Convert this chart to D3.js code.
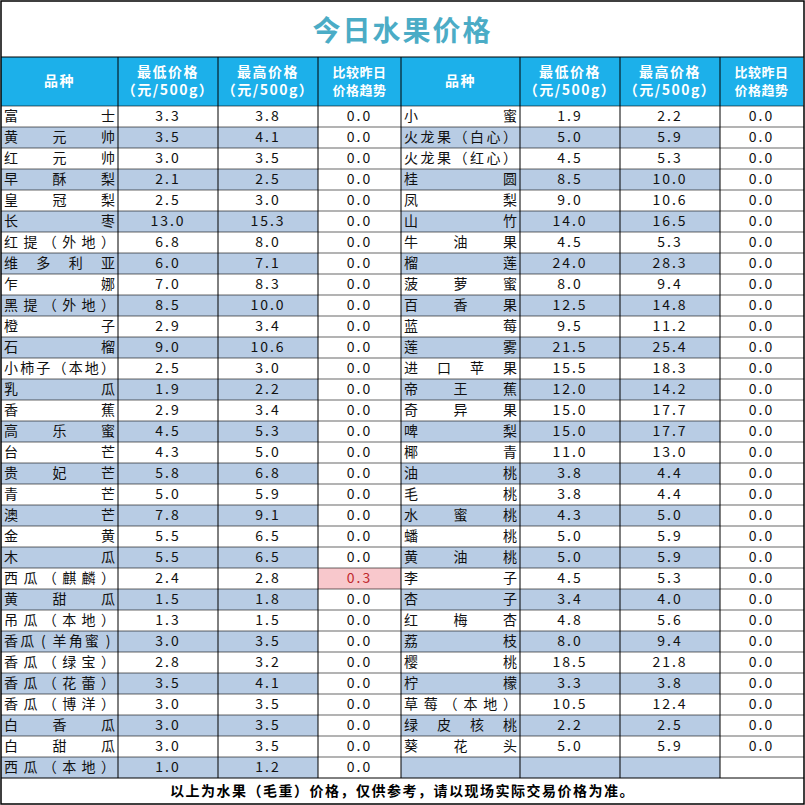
<!DOCTYPE html>
<html><head><meta charset="utf-8">
<script src="https://cdn.jsdelivr.net/npm/d3@7"></script>
<style>body{margin:0;background:#fff}svg text{font-family:"Noto Sans CJK SC",sans-serif}</style>
</head><body><div id="chart"></div>
<script>
const leftNames = ["富士","黄元帅","红元帅","早酥梨","皇冠梨","长枣","红提（外地）","维多利亚","乍娜","黑提（外地）","橙子","石榴","小柿子（本地）","乳瓜","香蕉","高乐蜜","台芒","贵妃芒","青芒","澳芒","金黄","木瓜","西瓜（麒麟）","黄甜瓜","吊瓜（本地）","香瓜(羊角蜜)","香瓜（绿宝）","香瓜（花蕾）","香瓜（博洋）","白香瓜","白甜瓜","西瓜（本地）"];
const leftLow  = [3.3,3.5,3.0,2.1,2.5,13.0,6.8,6.0,7.0,8.5,2.9,9.0,2.5,1.9,2.9,4.5,4.3,5.8,5.0,7.8,5.5,5.5,2.4,1.5,1.3,3.0,2.8,3.5,3.0,3.0,3.0,1.0];
const leftHigh = [3.8,4.1,3.5,2.5,3.0,15.3,8.0,7.1,8.3,10.0,3.4,10.6,3.0,2.2,3.4,5.3,5.0,6.8,5.9,9.1,6.5,6.5,2.8,1.8,1.5,3.5,3.2,4.1,3.5,3.5,3.5,1.2];
const leftTrend = [0,0,0,0,0,0,0,0,0,0,0,0,0,0,0,0,0,0,0,0,0,0,0.3,0,0,0,0,0,0,0,0,0];
const rightNames = ["小蜜","火龙果（白心）","火龙果（红心）","桂圆","凤梨","山竹","牛油果","榴莲","菠萝蜜","百香果","蓝莓","莲雾","进口苹果","帝王蕉","奇异果","啤梨","椰青","油桃","毛桃","水蜜桃","蟠桃","黄油桃","李子","杏子","红梅杏","荔枝","樱桃","柠檬","草莓（本地）","绿皮核桃","葵花头"];
const rightLow  = [1.9,5.0,4.5,8.5,9.0,14.0,4.5,24.0,8.0,12.5,9.5,21.5,15.5,12.0,15.0,15.0,11.0,3.8,3.8,4.3,5.0,5.0,4.5,3.4,4.8,8.0,18.5,3.3,10.5,2.2,5.0];
const rightHigh = [2.2,5.9,5.3,10.0,10.6,16.5,5.3,28.3,9.4,14.8,11.2,25.4,18.3,14.2,17.7,17.7,13.0,4.4,4.4,5.0,5.9,5.9,5.3,4.0,5.6,9.4,21.8,3.8,12.4,2.5,5.9];
const rightTrend = rightNames.map(() => 0);
const headers = [["品种"],["最低价格","（元/500g）"],["最高价格","（元/500g）"],["比较昨日","价格趋势"]];

const W = 805, H = 805;
const colX = [1,118,218,318,401,520,620,720,803];
const headTop = 57, headBot = 106, rowTop = 106, rowH = 21, nRows = 32;
const blue = "#b8cce4", head = "#1cb0ea";

const svg = d3.select("#chart").append("svg").attr("width", W).attr("height", H);
const rowY = d3.scaleLinear().domain([0, nRows]).range([rowTop, rowTop + nRows * rowH]);
const footTop = rowY(nRows);

// title
svg.append("text").attr("x", W/2).attr("y", 31).attr("text-anchor","middle").attr("dy","0.35em")
  .attr("font-size", 28).attr("font-weight", "bold").attr("fill", "#4bacc6").attr("letter-spacing", 2).text("今日水果价格");

// header
for (let c = 0; c < 8; c++) {
  svg.append("rect").attr("x", colX[c]).attr("y", headTop).attr("width", colX[c+1]-colX[c]).attr("height", headBot-headTop).attr("fill", head);
  const lines = headers[c % 4];
  const cx = (colX[c] + colX[c+1]) / 2;
  const narrow = c % 4 === 3;
  lines.forEach((t, i) => {
    const y = lines.length === 1 ? (headTop+headBot)/2 : (headTop+headBot)/2 + (i - 0.5) * 18;
    svg.append("text").attr("x", cx).attr("y", y).attr("dy","0.35em").attr("text-anchor","middle")
      .attr("font-size", narrow ? 13 : 14).attr("font-weight","bold").attr("fill","#fff")
      .attr("letter-spacing", narrow ? 0.5 : 1.5).text(t);
  });
}

function drawSide(names, low, high, trend, c0) {
  for (let r = 0; r < nRows; r++) {
    const y = rowY(r);
    for (let k = 0; k < 4; k++) {
      const x0 = colX[c0+k], x1 = colX[c0+k+1];
      let fill = "#fff";
      if (r % 2 === 1 && k < 3) fill = blue;
      if (k === 3 && trend[r] > 0) fill = "#f8c8cc";
      svg.append("rect").attr("x", x0).attr("y", y).attr("width", x1-x0).attr("height", rowH).attr("fill", fill);
    }
    if (r >= names.length) continue;
    const cy = y + rowH/2;
    // distributed name
    const chars = Array.from(names[r]);
    const nx0 = colX[c0] + 10, nx1 = colX[c0+1] - 10;
    const pos = d3.scalePoint().domain(d3.range(chars.length)).range([nx0, nx1]);
    chars.forEach((ch, i) => {
      svg.append("text").attr("x", pos(i)).attr("y", cy).attr("dy","0.35em").attr("text-anchor","middle")
        .attr("font-size", 14).attr("fill","#111").text(ch);
    });
    [low[r], high[r], trend[r]].forEach((v, k) => {
      svg.append("text").attr("x", (colX[c0+k+1]+colX[c0+k+2])/2).attr("y", cy).attr("dy","0.35em")
        .attr("text-anchor","middle").attr("font-size", 14).attr("letter-spacing", 2)
        .attr("fill", k === 2 && v > 0 ? "#c0282e" : "#111").text(v.toFixed(1));
    });
  }
}
drawSide(leftNames, leftLow, leftHigh, leftTrend, 0);
drawSide(rightNames, rightLow, rightHigh, rightTrend, 4);

// grid lines
const g = svg.append("g").attr("stroke","#000").attr("stroke-width",1).attr("fill","none");
g.append("rect").attr("x",1).attr("y",1).attr("width",W-2).attr("height",H-2).attr("stroke-width",1.5);
g.append("line").attr("x1",1).attr("x2",W-1).attr("y1",headTop).attr("y2",headTop);
g.append("line").attr("x1",1).attr("x2",W-1).attr("y1",footTop).attr("y2",footTop);
d3.range(nRows).forEach(r => g.append("line").attr("x1",1).attr("x2",W-1).attr("y1",rowY(r)).attr("y2",rowY(r)).attr("stroke-width",0.6));
colX.slice(1,-1).forEach(x => g.append("line").attr("x1",x).attr("x2",x).attr("y1",headTop).attr("y2",footTop));

svg.append("text").attr("x", W/2).attr("y", (footTop+H)/2).attr("dy","0.35em").attr("text-anchor","middle")
  .attr("font-size", 14).attr("font-weight","bold").attr("letter-spacing", 1.5).text("以上为水果（毛重）价格，仅供参考，请以现场实际交易价格为准。");
</script></body></html>
